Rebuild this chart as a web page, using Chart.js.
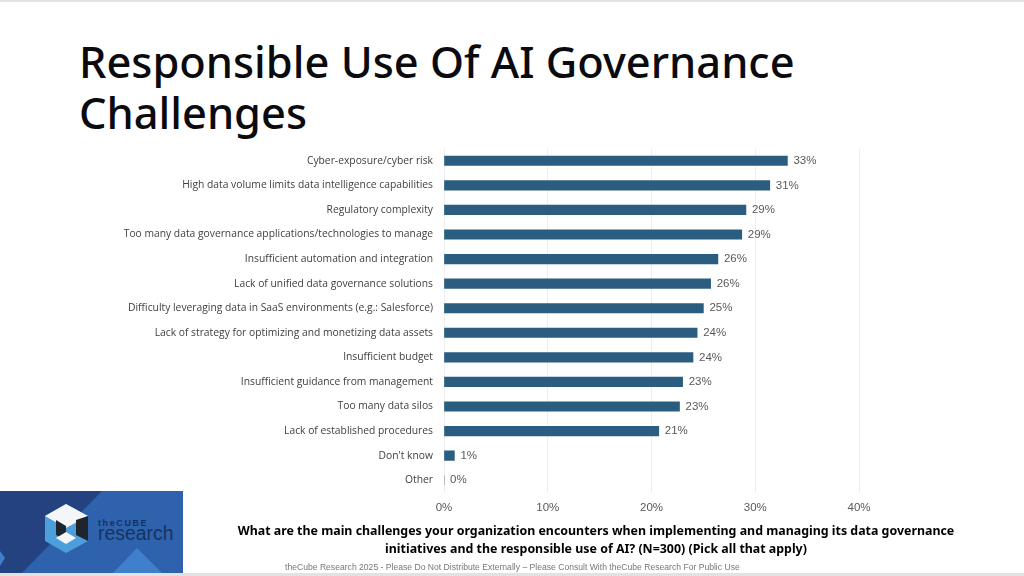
<!DOCTYPE html>
<html>
<head>
<meta charset="utf-8">
<title>Responsible Use Of AI Governance Challenges</title>
<script src="https://cdn.jsdelivr.net/npm/chart.js@4"></script>
<style>
    html, body { margin: 0; width: 1024px; height: 576px; overflow: hidden; background: #fff; }
    #chart { position: absolute; left: 0; top: 0; }
    .strip { position: absolute; left: 0; width: 1024px; background: #e2e2e2; }
    h1 { position: absolute; left: 79px; top: 36px; margin: 0; font: 500 43.4px/51px "Noto Sans", sans-serif; color: #0b0b0f; white-space: nowrap; }
    #question { position: absolute; left: 190px; width: 812px; top: 522px; text-align: center; font: 700 12.4px/18px "Noto Sans", sans-serif; color: #000; }
    #footer { position: absolute; left: 285px; top: 562px; font: 8.6px/10px "Liberation Sans", sans-serif; color: #777; white-space: nowrap; }
    #logo { position: absolute; left: 0; top: 491px; }
</style>
</head>
<body>
<div class="strip" style="top:0;height:2px"></div>
<div class="strip" style="top:573px;height:3px"></div>
<h1>Responsible Use Of AI Governance<br>Challenges</h1>
<canvas id="chart" width="1024" height="576"></canvas>
<svg id="logo" width="183" height="82" viewBox="0 0 183 82">
    <rect width="183" height="82" fill="#2f62ad"/>
    <polygon points="0,0 102,0 22,82 0,82" fill="#23427f"/>
    <polygon points="0,60 5,67 0,75" fill="#3f7fcb"/>
    <polygon points="113,82 137,57 162,82" fill="#3f7fcb"/>
    <polygon points="66,13 88,25 88,50 66,62 45,50 45,25" fill="#4d9fdc"/>
    <polygon points="66,13 88,25 66,37 45,25" fill="#f4f6f8"/>
    <polygon points="56,29 66,35 66,49 56,44" fill="#20242c"/>
    <polygon points="76,29 88,25 88,50 76,44" fill="#20242c"/>
    <polygon points="66,41 76,47 66,53 56,47" fill="#f4f6f8"/>
    <text x="98" y="35" font-family="Liberation Sans" font-size="9" font-weight="700" letter-spacing="1.6" fill="#14305f">theCUBE</text>
    <text x="98" y="49" font-family="Liberation Sans" font-size="19.4" fill="#16335f">research</text>
</svg>
<div id="question">What are the main challenges your organization encounters when implementing and managing its data governance<br>initiatives and the responsible use of AI? (N=300) (Pick all that apply)</div>
<div id="footer">theCube Research 2025 - Please Do Not Distribute Externally – Please Consult With theCube Research For Public Use</div>
<script>
const categories = [
    "Cyber-exposure/cyber risk",
    "High data volume limits data intelligence capabilities",
    "Regulatory complexity",
    "Too many data governance applications/technologies to manage",
    "Insufficient automation and integration",
    "Lack of unified data governance solutions",
    "Difficulty leveraging data in SaaS environments (e.g.: Salesforce)",
    "Lack of strategy for optimizing and monetizing data assets",
    "Insufficient budget",
    "Insufficient guidance from management",
    "Too many data silos",
    "Lack of established procedures",
    "Don't know",
    "Other"
];
const shares = [33.1, 31.4, 29.1, 28.7, 26.4, 25.7, 25.0, 24.4, 24.0, 23.0, 22.7, 20.7, 1.0, 0];
const shareLabels = ["33%", "31%", "29%", "29%", "26%", "26%", "25%", "24%", "24%", "23%", "23%", "21%", "1%", "0%"];
const xTicks = [0, 10, 20, 30, 40];

// etiquetas de valor al final de cada barra
const barLabels = {
    id: "barLabels",
    afterDatasetsDraw(chart) {
        const ctx = chart.ctx;
        ctx.save();
        ctx.font = '11.5px "Liberation Sans"';
        ctx.fillStyle = "#595959";
        ctx.textBaseline = "middle";
        chart.getDatasetMeta(0).data.forEach((bar, i) => {
            ctx.fillText(shareLabels[i], bar.x + 6, bar.y);
        });
        ctx.restore();
    }
};

new Chart(document.getElementById("chart"), {
    type: "bar",
    data: {
        labels: categories,
        datasets: [{
            data: shares,
            backgroundColor: "#2b5d80",
            barThickness: 9.5
        }]
    },
    options: {
        indexAxis: "y",
        responsive: false,
        animation: false,
        layout: { padding: { left: 0, top: 148.5, right: 165, bottom: 54.5 } },
        plugins: { legend: { display: false }, tooltip: { enabled: false } },
        scales: {
            x: {
                min: 0,
                max: 40,
                afterBuildTicks(axis) { axis.ticks = xTicks.map(v => ({ value: v })); },
                afterFit(axis) { axis.height = 29; },
                grid: { color: "#eeeeee", drawTicks: false },
                border: { display: false },
                ticks: {
                    color: "#595959",
                    padding: 8,
                    maxRotation: 0,
                    font: { family: "Liberation Sans", size: 11.5 },
                    callback: v => v + "%"
                }
            },
            y: {
                afterFit(axis) { axis.width = 444; },
                grid: { display: false },
                border: { display: false },
                ticks: {
                    color: "#404040",
                    padding: 3,
                    autoSkip: false,
                    font: { family: "Open Sans", size: 10.3 }
                }
            }
        }
    },
    plugins: [barLabels]
});
</script>
</body>
</html>
